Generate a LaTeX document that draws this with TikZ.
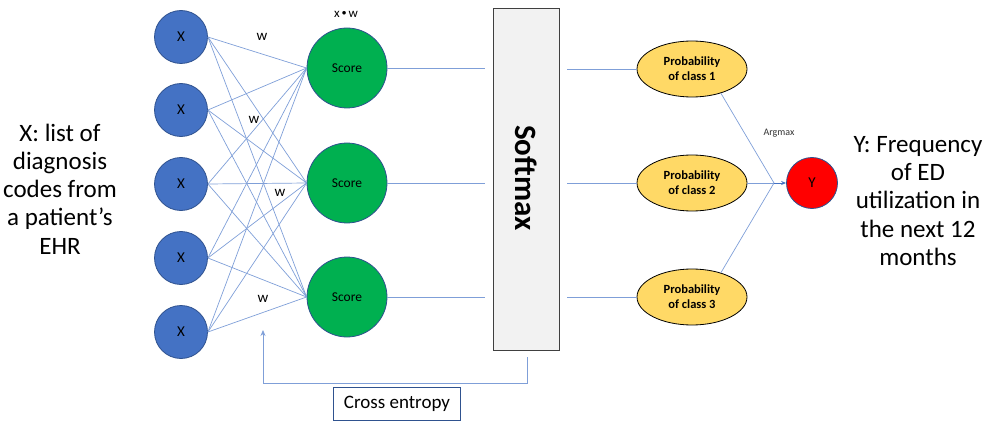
\documentclass[tikz,border=0pt]{standalone}
\usepackage{fontspec}
\setmainfont{Carlito}
\usetikzlibrary{arrows.meta,shapes.geometric}
\definecolor{xblue}{HTML}{4472C4}
\definecolor{xborder}{HTML}{2F528F}
\definecolor{sgreen}{HTML}{00B050}
\definecolor{pyellow}{HTML}{FFD966}
\definecolor{lineblue}{HTML}{7F9FD8}
\definecolor{boxgray}{HTML}{F2F2F2}
\tikzset{
  xnode/.style={circle,fill=xblue,draw=xborder,line width=0.8pt,minimum size=53pt,inner sep=0pt,font=\fontsize{15}{17}\selectfont},
  scorenode/.style={circle,fill=sgreen,draw=xborder,line width=0.8pt,minimum size=80pt,inner sep=0pt,font=\fontsize{13.5}{15}\selectfont},
  probnode/.style={ellipse,fill=pyellow,draw=black,line width=0.8pt,minimum width=110pt,minimum height=56pt,inner sep=0pt,align=center,font=\bfseries\fontsize{12.5}{15}\selectfont},
  conn/.style={draw=lineblue,line width=0.7pt},
  wlabel/.style={font=\fontsize{15}{17}\selectfont},
  bigtext/.style={align=center,font=\fontsize{25}{28.3}\selectfont}
}
\begin{document}
\begin{tikzpicture}[x=1pt,y=-1pt]
\useasboundingbox (0,0) rectangle (983,425);
% input nodes
\foreach \i/\y in {1/37,2/110,3/184,4/258,5/332}{
  \node[xnode] (x\i) at (181,\y) {X};
}
% score nodes
\foreach \j/\y in {1/68,2/183,3/297}{
  \node[scorenode] (s\j) at (347,\y) {Score};
}
% connections
\foreach \i in {1,...,5}{
  \foreach \j in {1,2,3}{
    \draw[conn] (x\i.east) -- (s\j.west);
  }
}
\node[wlabel] (w1) at (262,37) {w};
\node[wlabel] (w2) at (254,120) {w};
\node[wlabel] (w3) at (280,193) {w};
\node[wlabel] (w4) at (263,299) {w};
\node[font=\fontsize{13}{15}\selectfont] (xw) at (346,14) {x\,\raisebox{0.3ex}{\small$\bullet$}\,w};
% softmax
\node[draw=black!75,fill=boxgray,line width=0.8pt,minimum width=66pt,minimum height=342pt,inner sep=0pt] (soft) at (526,179) {};
\node[rotate=-90,font=\bfseries\fontsize{31}{33}\selectfont] (softlabel) at (526,178) {Softmax};
\foreach \j/\y in {1/68,2/183,3/297}{
  \coordinate (in\j) at (485,\y);
  \draw[conn] (s\j.east) -- (in\j);
}
% probability nodes
\node[probnode] (p1) at (692,69) {Probability\\of class 1};
\node[probnode] (p2) at (692,183) {Probability\\of class 2};
\node[probnode] (p3) at (692,297) {Probability\\of class 3};
\foreach \j/\y in {1/69,2/183,3/297}{
  \coordinate (out\j) at (567,\y);
  \draw[conn] (out\j) -- (p\j.west);
}
% argmax
\node[circle,fill=red,draw=xborder,line width=0.8pt,minimum size=51pt,inner sep=0pt,font=\fontsize{15}{17}\selectfont] (y) at (812,183) {Y};
\coordinate (junc) at (774,183);
\draw[conn] (p1.-40) -- (junc);
\draw[conn] (p2.east) -- (junc);
\draw[conn] (p3.40) -- (junc);
\draw[conn,-{Stealth[length=5pt,width=4pt]},draw=xblue] (junc) -- (y.west);
\node[font=\fontsize{10}{12}\selectfont,text=black!80] (argmax) at (779,133) {Argmax};
% texts
\node[bigtext] (xtext) at (60,189) {X: list of\\diagnosis\\codes from\\a patient’s\\EHR};
\node[bigtext] (ytext) at (918,201) {Y: Frequency\\of ED\\utilization in\\the next 12\\months};
% cross entropy
\node[draw=xborder,line width=0.8pt,minimum width=127pt,minimum height=33pt,inner sep=0pt,font=\fontsize{19}{21}\selectfont] (ce) at (397,404) {Cross entropy};
\coordinate (ceA) at (527,357);
\coordinate (ceB) at (263,330);
\draw[conn,-{Stealth[length=6pt,width=5pt]}] (ceA) -- (527,383) -- (263,383) -- (ceB);
\end{tikzpicture}
\end{document}
